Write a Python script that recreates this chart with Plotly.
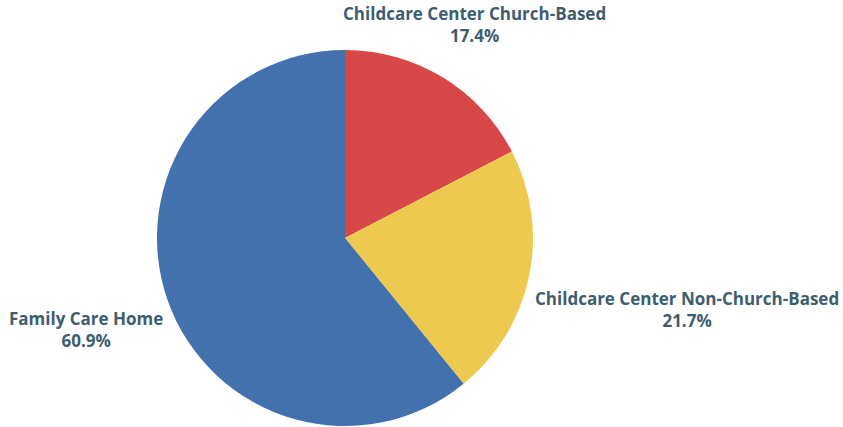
import math
import plotly.graph_objects as go

categories = ["Childcare Center Church-Based", "Childcare Center Non-Church-Based", "Family Care Home"]
values = [8, 10, 28]
colors = ["#D94848", "#EDC94F", "#4271AD"]

W, H = 843, 427
cx, cy, r = 345, 238, 188
label_dist = [1.33, 1.86, 1.46]
text_color = "#3E5E70"

fig = go.Figure(go.Pie(
    labels=categories, values=values, sort=False, direction="clockwise", rotation=0,
    marker=dict(colors=colors, line=dict(width=0)), textinfo="none", hoverinfo="label+percent",
    domain=dict(x=[(cx - r) / W, (cx + r) / W], y=[1 - (cy + r) / H, 1 - (cy - r) / H]),
    showlegend=False,
))

total = sum(values)
cum = 0
annotations = []
for cat, v, k in zip(categories, values, label_dist):
    frac = v / total
    mid = (cum + frac / 2) * 2 * math.pi
    cum += frac
    px = cx + k * r * math.sin(mid)
    py = cy - k * r * math.cos(mid)
    annotations.append(dict(
        x=px / W, y=1 - py / H, xref="paper", yref="paper", showarrow=False,
        text=f"<b>{cat}</b><br><b>{frac*100:.1f}%</b>", align="center",
        xanchor="center", yanchor="middle",
        font=dict(family="Open Sans", size=17, color=text_color),
    ))

fig.update_layout(
    width=W, height=H, margin=dict(l=0, r=0, t=0, b=0),
    paper_bgcolor="white", plot_bgcolor="white", annotations=annotations,
)
fig.write_html("out.html")
